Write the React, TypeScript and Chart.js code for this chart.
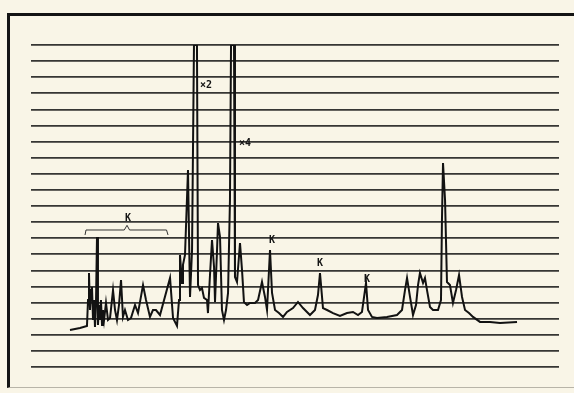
import React, { useEffect, useRef } from "react";
import { Chart, registerables } from "chart.js";

Chart.register(...registerables);

// Retention time (min) and detector signal (chart divisions)
const retentionTime = [
  4.43, 5.57, 6.36, 6.48, 6.59, 6.7, 6.82, 6.93, 7.05, 7.16, 7.27, 7.39, 7.5, 7.61, 7.73, 7.84, 7.95, 8.07, 8.18, 8.3,
  8.52, 8.75, 8.98, 9.32, 9.55, 9.77, 10.0, 10.23, 10.45, 10.68, 11.02, 11.36, 11.82, 12.16, 12.73, 13.07, 13.52, 13.86,
  14.2, 14.66, 15.8, 16.14, 16.59, 16.82, 16.93, 17.16, 17.27, 17.5, 17.84, 18.07, 18.3, 18.52, 18.86, 18.98, 19.2,
  19.43, 19.66, 20.0, 20.11, 20.34, 20.57, 20.8, 20.91, 21.14, 21.25, 21.48, 21.7, 21.93, 22.16, 22.39, 22.61, 22.73,
  23.07, 23.18, 23.41, 23.75, 23.98, 24.2, 24.55, 24.89, 25.45, 25.8, 26.25, 26.59, 26.82, 27.16, 27.39, 27.73, 28.18,
  28.64, 29.09, 29.77, 30.34, 30.91, 31.7, 32.27, 32.61, 32.84, 33.18, 33.64, 34.32, 35.11, 35.91, 36.59, 37.16, 37.61,
  38.07, 38.3, 38.75, 39.32, 40.45, 41.59, 42.16, 42.5, 42.73, 43.07, 43.41, 43.75, 43.98, 44.2, 44.55, 44.77, 45.0,
  45.34, 45.68, 46.25, 46.59, 46.7, 46.82, 47.05, 47.27, 47.61, 47.95, 48.3, 48.64, 48.98, 49.32, 49.77, 50.23, 51.02,
  52.16, 53.3, 55.23,
];
const signal = [
  2.3, 2.42, 2.55, 4.16, 5.84, 3.54, 4.78, 4.97, 2.92, 4.16, 2.48, 4.16, 8.07, 2.61, 3.85, 2.92, 4.16, 2.61, 3.54, 2.92,
  3.98, 2.92, 3.04, 4.78, 3.54, 2.92, 3.85, 5.4, 3.11, 3.54, 2.92, 3.04, 3.85, 3.35, 5.09, 4.16, 3.11, 3.54,
  3.54, 3.23, 5.53, 3.04, 2.55, 4.16, 6.96, 5.22, 6.34, 6.96, 12.24, 4.35, 7.27, 20, 20, 5.09, 4.78,
  4.91, 4.29, 4.16, 3.35, 5.71, 7.89, 6.21, 4.04, 7.27, 8.94, 8.07, 3.54, 2.92, 3.54, 4.6, 10.37, 20,
  20, 5.59, 5.28, 7.7, 6.02, 4.04, 3.85, 3.98, 3.98, 4.16, 5.28, 4.35, 3.54, 7.27, 4.6, 3.54, 3.35,
  3.11, 3.42, 3.66, 4.04, 3.66, 3.23, 3.54, 4.47, 5.84, 3.66, 3.54, 3.35, 3.17, 3.35, 3.42, 3.23, 3.42,
  5.22, 3.54, 3.11, 3.04, 3.11, 3.23, 3.54, 4.78, 5.53, 4.35, 3.23, 3.85, 5.09, 5.84, 5.22, 5.53, 4.78,
  3.73, 3.54, 3.54, 4.16, 9.13, 12.67, 10.37, 5.28, 5.09, 3.98, 4.78, 5.71, 4.35, 3.54, 3.35, 3.11, 2.8,
  2.8, 2.73, 2.8,
];

// Bracket over the early group of peaks
const bracketX = [6.14, 6.25, 10.6, 10.91, 11.2, 15.4, 15.57];
const bracketY = [8.2, 8.51, 8.51, 8.8, 8.51, 8.51, 8.2];

// Annotations on the trace
const labelTexts = ["×2", "×4", "K", "K", "K", "K"];
const labelX = [19.89, 24.32, 27.39, 32.84, 38.18, 11.02];
const labelY = [17.52, 13.91, 7.89, 6.46, 5.47, 9.25];

const xMin = 0;
const xMax = 60;
const yMin = 0;
const yMax = 20;

const labelPlugin = {
  id: "peakLabels",
  afterDatasetsDraw(chart: any) {
    const { ctx, scales } = chart;
    ctx.save();
    ctx.fillStyle = "#151515";
    ctx.font = "bold 10px 'DejaVu Sans Mono'";
    ctx.textAlign = "center";
    ctx.textBaseline = "middle";
    labelTexts.forEach((t, i) => {
      ctx.fillText(t, scales.x.getPixelForValue(labelX[i]), scales.y.getPixelForValue(labelY[i]));
    });
    ctx.restore();
  },
};

export default function App() {
  const ref = useRef<HTMLCanvasElement | null>(null);

  useEffect(() => {
    if (!ref.current) return;
    const chart = new Chart(ref.current, {
      type: "line",
      data: {
        datasets: [
          {
            data: retentionTime.map((x, i) => ({ x, y: signal[i] })),
            borderColor: "#121212",
            borderWidth: 2,
            pointRadius: 0,
            tension: 0,
            fill: false,
          },
          {
            data: bracketX.map((x, i) => ({ x, y: bracketY[i] })),
            borderColor: "#333",
            borderWidth: 1,
            pointRadius: 0,
            tension: 0,
            fill: false,
          },
        ],
      },
      options: {
        responsive: false,
        animation: false,
        layout: { padding: { left: 31, right: 15, top: 45, bottom: 26 } },
        plugins: { legend: { display: false }, tooltip: { enabled: false } },
        scales: {
          x: {
            type: "linear",
            min: xMin,
            max: xMax,
            grid: { display: false, drawTicks: false },
            border: { display: false },
            ticks: { display: false },
          },
          y: {
            type: "linear",
            min: yMin,
            max: yMax,
            grid: { color: "rgba(20,20,20,0.85)", lineWidth: 1.7, drawTicks: false },
            border: { display: false },
            ticks: { display: false, stepSize: 1 },
          },
        },
      },
      plugins: [labelPlugin],
    });
    return () => chart.destroy();
  }, []);

  return (
    <div style={{ position: "absolute", left: 0, top: 0, width: 574, height: 393, background: "#f9f5e7", overflow: "hidden" }}>
      <div
        style={{
          position: "absolute",
          left: 7,
          top: 13,
          width: 580,
          height: 371,
          borderTop: "3px solid #141414",
          borderLeft: "3px solid #141414",
          borderBottom: "1px solid #b8b4a8",
        }}
      />
      <canvas ref={ref} width={574} height={393} style={{ position: "absolute", left: 0, top: 0 }} />
    </div>
  );
}
